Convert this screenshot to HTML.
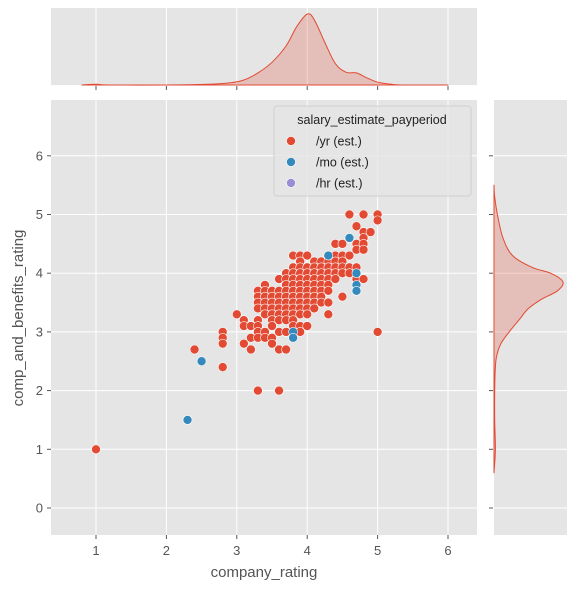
<!DOCTYPE html>
<html><head><meta charset="utf-8"><style>
html,body{margin:0;padding:0;background:#fff;}
svg{display:block;font-family:"Liberation Sans","DejaVu Sans",sans-serif;}
</style></head><body>
<svg id="c" width="576" height="590" viewBox="0 0 576 590" xmlns="http://www.w3.org/2000/svg"></svg>
<script>
const xTicks=[1,2,3,4,5,6];
const yTicks=[0,1,2,3,4,5,6];
// scatter rows: [y, [x values]] for /yr (est.)
const yrRows=[
[5.0,[4.6,4.8,5.0]],[4.9,[5.0]],[4.8,[4.7]],[4.7,[4.8,4.9]],[4.6,[4.8]],
[4.5,[4.4,4.5,4.7,4.8]],[4.4,[4.7,4.8]],[4.3,[3.8,3.9,4.0,4.4,4.5,4.6]],
[4.2,[3.9,4.1,4.2,4.3,4.4,4.5]],[4.1,[3.8,3.9,4.0,4.1,4.2,4.3,4.4,4.5,4.6,4.7]],
[4.0,[3.7,3.8,3.9,4.0,4.1,4.2,4.3,4.4,4.5,4.6]],[3.9,[3.6,3.7,3.8,3.9,4.0,4.1,4.2,4.3,4.4,4.7,4.8]],
[3.8,[3.4,3.7,3.8,3.9,4.0,4.1,4.2,4.3]],[3.7,[3.3,3.4,3.5,3.6,3.7,3.8,3.9,4.0,4.1,4.2,4.3]],
[3.6,[3.3,3.4,3.5,3.6,3.7,3.8,3.9,4.0,4.1,4.2,4.5]],[3.5,[3.3,3.4,3.5,3.6,3.7,3.8,3.9,4.0,4.1,4.2,4.3]],
[3.4,[3.3,3.4,3.5,3.6,3.7,3.8,3.9,4.0,4.1]],[3.3,[3.0,3.4,3.5,3.6,3.7,3.8,3.9,4.0,4.3]],
[3.2,[3.1,3.3,3.5,3.6,3.7,3.8]],[3.1,[3.1,3.2,3.3,3.5,3.8,3.9,4.0]],
[3.0,[2.8,3.3,3.4,3.6,3.7,3.9,5.0]],[2.9,[2.8,3.2,3.3,3.4,3.5]],[2.8,[2.8,3.1,3.5]],
[2.7,[2.4,3.2,3.6,3.7]],[2.4,[2.8]],[2.0,[3.3,3.6]],[1.0,[1.0]]
];
const moX=[4.6,4.3,4.7,4.7,4.7,3.8,3.8,2.5,2.3];
const moY=[4.6,4.3,4.0,3.8,3.7,3.0,2.9,2.5,1.5];
// marginal KDE (company_rating)
const kdeX=[0.8,1.0,1.2,2.0,2.6,2.9,3.1,3.3,3.5,3.7,3.85,4.0,4.1,4.25,4.4,4.55,4.7,4.85,5.0,5.2,5.4,6.0];
const kdeXd=[0,0.01,0,0,0.01,0.03,0.07,0.17,0.32,0.55,0.82,1.0,0.92,0.6,0.3,0.18,0.17,0.1,0.04,0.01,0,0];
// marginal KDE (comp_and_benefits_rating)
const kdeY=[0.6,1.0,1.5,2.0,2.4,2.6,2.8,3.0,3.2,3.4,3.55,3.7,3.85,4.0,4.1,4.3,4.6,5.0,5.3,5.5];
const kdeYd=[0,0.02,0.01,0.01,0.02,0.04,0.1,0.22,0.36,0.5,0.68,0.92,1.0,0.82,0.55,0.27,0.13,0.05,0.01,0];

const svg=document.getElementById('c');
const NS='http://www.w3.org/2000/svg';
function mk(t,a,p){const e=document.createElementNS(NS,t);for(const k in a)e.setAttribute(k,a[k]);(p||svg).appendChild(e);return e;}
function smooth(pts){
  let d='M'+pts[0][0].toFixed(1)+','+pts[0][1].toFixed(1);
  for(let i=0;i<pts.length-1;i++){
    const p0=pts[Math.max(0,i-1)],p1=pts[i],p2=pts[i+1],p3=pts[Math.min(pts.length-1,i+2)];
    const c1=[p1[0]+(p2[0]-p0[0])/6,p1[1]+(p2[1]-p0[1])/6];
    const c2=[p2[0]-(p3[0]-p1[0])/6,p2[1]-(p3[1]-p1[1])/6];
    d+=' C'+c1[0].toFixed(1)+','+c1[1].toFixed(1)+' '+c2[0].toFixed(1)+','+c2[1].toFixed(1)+' '+p2[0].toFixed(1)+','+p2[1].toFixed(1);
  }
  return d;
}
const L=51,R=477,T=100,B=535;
const sx=v=>96+(v-1)*70.4;
const sy=v=>508-v*58.7;
let bg=mk('rect',{x:L,y:T,width:R-L,height:B-T,fill:'#E5E5E5'});


let tb=mk('rect',{x:L,y:8,width:R-L,height:77,fill:'#E5E5E5'});


let rb=mk('rect',{x:494,y:T,width:73,height:B-T,fill:'#E5E5E5'});


xTicks.forEach(t=>{
  const x=sx(t);
  let g=mk('line',{x1:x,x2:x,y1:T,y2:B,stroke:'#fff','stroke-width':1});
  
  
  mk('line',{x1:x,x2:x,y1:8,y2:85,stroke:'#fff','stroke-width':1});
  mk('line',{x1:x,x2:x,y1:B,y2:B+4,stroke:'#555'});
  mk('line',{x1:x,x2:x,y1:86,y2:90,stroke:'#555'});
  let tx=mk('text',{x:x,y:B+20,'text-anchor':'middle','font-size':13,fill:'#555'});
  tx.textContent=t;
  
  
});
yTicks.forEach(t=>{
  const y=sy(t);
  let g=mk('line',{x1:L,x2:R,y1:y,y2:y,stroke:'#fff','stroke-width':1});
  
  
  mk('line',{x1:494,x2:567,y1:y,y2:y,stroke:'#fff','stroke-width':1});
  mk('line',{x1:L-4,x2:L,y1:y,y2:y,stroke:'#555'});
  mk('line',{x1:489,x2:493,y1:y,y2:y,stroke:'#555'});
  let tx=mk('text',{x:L-8,y:y+4.5,'text-anchor':'end','font-size':13,fill:'#555'});
  tx.textContent=t;
  
  
});
// top kde
let pts=kdeX.map((v,i)=>[sx(v),85-kdeXd[i]*71]);
let d=smooth(pts)+' L'+pts[pts.length-1][0].toFixed(1)+',85 L'+pts[0][0].toFixed(1)+',85 Z';
let kt=mk('path',{d:d,fill:'rgba(226,74,51,0.25)',stroke:'#E24A33','stroke-width':1,'stroke-linejoin':'round'});


// right kde
pts=kdeY.map((v,i)=>[494+kdeYd[i]*69,sy(v)]);
d=smooth(pts)+' L494,'+pts[pts.length-1][1].toFixed(1)+' L494,'+pts[0][1].toFixed(1)+' Z';
let kr=mk('path',{d:d,fill:'rgba(226,74,51,0.25)',stroke:'#E24A33','stroke-width':1,'stroke-linejoin':'round'});


yrRows.forEach(r=>{r[1].forEach(x=>{
  let c=mk('circle',{cx:sx(x),cy:sy(r[0]),r:4.5,fill:'#E24A33',stroke:'#fff','stroke-width':0.6});
  
  
});});
moX.forEach((x,i)=>{
  let c=mk('circle',{cx:sx(x),cy:sy(moY[i]),r:4.5,fill:'#348ABD',stroke:'#fff','stroke-width':0.6});
  
  
});
let xl=mk('text',{x:264,y:577,'text-anchor':'middle','font-size':15,fill:'#555'});
xl.textContent='company_rating';


let yl=mk('text',{x:0,y:0,'text-anchor':'middle','font-size':15,fill:'#555',transform:'translate(23,318) rotate(-90)'});
yl.textContent='comp_and_benefits_rating';


const lg=mk('g',{});


mk('rect',{x:274,y:106,width:197,height:90,rx:3,fill:'#E5E5E5',stroke:'#d0d0d0','fill-opacity':0.8},lg);
let lt=mk('text',{x:372,y:124,'text-anchor':'middle','font-size':12.5,fill:'#222'},lg);
lt.textContent='salary_estimate_payperiod';


const labs=['/yr (est.)','/mo (est.)','/hr (est.)'];
const cols=['#E24A33','#348ABD','#988ED5'];
labs.forEach((s,i)=>{
  const y=141+i*21;
  let e=mk('g',{},lg);
  
  
  mk('circle',{cx:291,cy:y,r:4.5,fill:cols[i],stroke:'#fff','stroke-width':0.6},e);
  let t=mk('text',{x:316,y:y+4.5,'font-size':12.5,fill:'#222'},e);
  t.textContent=s;
});
</script>
</body></html>
